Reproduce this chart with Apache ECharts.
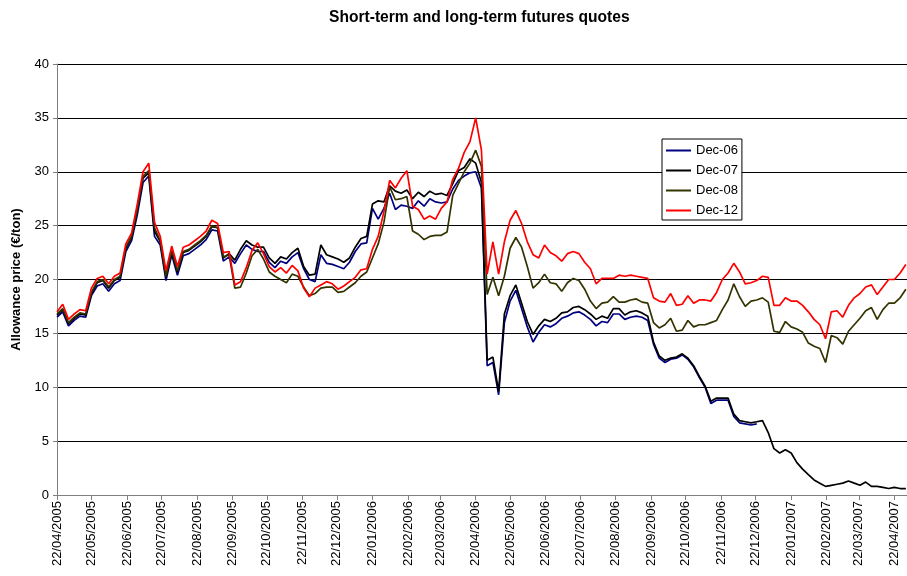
<!DOCTYPE html>
<html>
<head>
<meta charset="utf-8">
<script src="https://cdn.jsdelivr.net/npm/echarts@6/dist/echarts.min.js"></script>
<style>
  html, body { margin: 0; padding: 0; background: #fff; }
  #chart { width: 907px; height: 576px; }
</style>
</head>
<body>
<div id="chart"></div>
<script>
// sample dates (every 5 calendar days)
const dates = [
  '2005-04-22','2005-04-27','2005-05-02','2005-05-07','2005-05-12','2005-05-17','2005-05-22','2005-05-27',
  '2005-06-01','2005-06-06','2005-06-11','2005-06-16','2005-06-21','2005-06-26','2005-07-01','2005-07-06',
  '2005-07-11','2005-07-16','2005-07-21','2005-07-26','2005-07-31','2005-08-05','2005-08-10','2005-08-15',
  '2005-08-20','2005-08-25','2005-08-30','2005-09-04','2005-09-09','2005-09-14','2005-09-19','2005-09-24',
  '2005-09-29','2005-10-04','2005-10-09','2005-10-14','2005-10-19','2005-10-24','2005-10-29','2005-11-03',
  '2005-11-08','2005-11-13','2005-11-18','2005-11-23','2005-11-28','2005-12-03','2005-12-08','2005-12-13',
  '2005-12-18','2005-12-23','2005-12-28','2006-01-02','2006-01-07','2006-01-12','2006-01-17','2006-01-22',
  '2006-01-27','2006-02-01','2006-02-06','2006-02-11','2006-02-16','2006-02-21','2006-02-26','2006-03-03',
  '2006-03-08','2006-03-13','2006-03-18','2006-03-23','2006-03-28','2006-04-02','2006-04-07','2006-04-12',
  '2006-04-17','2006-04-22','2006-04-27','2006-05-02','2006-05-07','2006-05-12','2006-05-17','2006-05-22',
  '2006-05-27','2006-06-01','2006-06-06','2006-06-11','2006-06-16','2006-06-21','2006-06-26','2006-07-01',
  '2006-07-06','2006-07-11','2006-07-16','2006-07-21','2006-07-26','2006-07-31','2006-08-05','2006-08-10',
  '2006-08-15','2006-08-20','2006-08-25','2006-08-30','2006-09-04','2006-09-09','2006-09-14','2006-09-19',
  '2006-09-24','2006-09-29','2006-10-04','2006-10-09','2006-10-14','2006-10-19','2006-10-24','2006-10-29',
  '2006-11-03','2006-11-08','2006-11-13','2006-11-18','2006-11-23','2006-11-28','2006-12-03','2006-12-08',
  '2006-12-13','2006-12-18','2006-12-23','2006-12-28','2007-01-02','2007-01-07','2007-01-12','2007-01-17',
  '2007-01-22','2007-01-27','2007-02-01','2007-02-06','2007-02-11','2007-02-16','2007-02-21','2007-02-26',
  '2007-03-03','2007-03-08','2007-03-13','2007-03-18','2007-03-23','2007-03-28','2007-04-02','2007-04-07',
  '2007-04-12','2007-04-17','2007-04-22','2007-04-27','2007-05-02'
];

const dec06 = [
  16.5,17.0,15.7,16.2,16.6,16.5,18.5,19.4,19.6,18.9,19.6,19.9,22.6,23.6,26.0,29.0,
  29.6,24.0,23.2,19.9,22.3,20.4,22.2,22.4,22.8,23.2,23.7,24.6,24.5,21.7,22.1,21.5,
  22.4,23.2,22.8,22.6,22.6,21.6,21.1,21.7,21.5,22.1,22.5,21.0,20.0,19.8,22.3,21.5,
  21.4,21.2,21.0,21.6,22.6,23.3,23.4,26.6,25.6,26.6,28.0,26.5,26.9,26.8,26.6,27.3,
  26.8,27.5,27.2,27.1,27.2,28.4,29.2,29.6,29.9,30.0,28.5,12.0,12.3,9.3,16.0,18.0,
  19.0,17.3,15.6,14.2,15.1,15.8,15.6,15.9,16.4,16.6,16.9,17.0,16.7,16.3,15.7,16.1,
  16.0,16.8,16.8,16.3,16.5,16.6,16.5,16.2,14.0,12.7,12.3,12.6,12.7,13.0,12.6,11.9,
  10.9,10.0,8.5,8.8,8.8,8.8,7.3,6.7,6.6,6.5,6.6
];

const dec07 = [
  16.7,17.2,15.9,16.4,16.8,16.7,18.7,19.7,19.9,19.2,19.9,20.2,22.9,23.9,26.4,29.4,
  29.9,24.5,23.5,20.2,22.6,20.7,22.5,22.7,23.1,23.5,24.0,24.9,24.8,22.0,22.4,21.8,
  22.8,23.6,23.2,23.0,23.0,22.0,21.5,22.1,21.9,22.5,22.9,21.2,20.4,20.5,23.2,22.3,
  22.1,21.9,21.6,22.0,23.0,23.8,24.0,27.0,27.3,27.2,28.7,28.2,28.0,28.3,27.5,28.1,
  27.7,28.2,27.9,28.0,27.8,28.9,30.1,30.4,31.2,30.8,29.0,12.5,12.8,9.6,16.8,18.5,
  19.5,17.8,16.1,14.9,15.7,16.3,16.1,16.4,16.9,17.0,17.4,17.5,17.2,16.8,16.3,16.6,
  16.4,17.3,17.3,16.7,17.0,17.1,16.9,16.6,14.2,12.9,12.5,12.7,12.8,13.1,12.7,12.0,
  11.0,10.1,8.7,9.0,9.0,9.0,7.5,6.9,6.8,6.7,6.8,6.9,5.8,4.3,3.9,4.2,
  3.9,3.0,2.4,1.9,1.4,1.1,0.8,0.9,1.0,1.1,1.3,1.1,0.9,1.2,0.8,0.8,
  0.7,0.6,0.7,0.6,0.6
];

const dec08 = [
  16.8,17.3,16.0,16.5,16.9,16.8,18.8,19.8,20.0,19.3,20.0,20.3,23.0,24.0,26.5,29.6,
  30.1,24.8,23.6,20.3,22.7,20.8,22.6,22.8,23.2,23.6,24.1,25.0,24.8,22.1,22.3,19.2,
  19.3,20.6,22.2,22.8,21.9,20.7,20.3,20.0,19.7,20.5,20.3,19.3,18.5,18.7,19.2,19.3,
  19.3,18.8,18.9,19.3,19.7,20.3,20.7,22.0,23.3,25.3,28.6,27.4,27.5,27.7,24.5,24.2,
  23.7,24.0,24.1,24.1,24.4,27.8,28.9,30.0,30.8,32.0,30.5,18.6,20.2,18.5,20.3,22.9,
  23.9,23.0,21.2,19.2,19.7,20.5,19.7,19.6,18.9,19.7,20.1,19.9,19.1,18.0,17.3,17.8,
  17.9,18.4,17.9,17.9,18.1,18.2,17.9,17.8,16.0,15.5,15.8,16.4,15.2,15.3,16.2,15.6,
  15.8,15.8,16.0,16.2,17.2,18.1,19.6,18.4,17.5,18.0,18.1,18.3,17.9,15.2,15.1,16.1,
  15.6,15.4,15.1,14.1,13.8,13.6,12.3,14.8,14.6,14.0,15.2,15.8,16.4,17.1,17.4,16.3,
  17.2,17.8,17.8,18.3,19.1
];

const dec12 = [
  17.0,17.7,16.3,16.8,17.2,17.1,19.2,20.1,20.3,19.6,20.3,20.6,23.3,24.3,27.0,30.0,
  30.8,25.3,24.0,20.8,23.1,21.2,23.0,23.2,23.6,24.0,24.5,25.5,25.2,22.5,22.6,19.5,
  19.8,21.1,22.7,23.4,22.4,21.2,20.7,21.1,20.6,21.3,20.8,19.2,18.4,19.2,19.5,19.8,
  19.6,19.1,19.4,19.8,20.2,20.9,21.0,22.8,24.0,26.3,29.2,28.5,29.4,30.1,26.8,26.5,
  25.6,25.9,25.6,26.6,27.2,29.3,30.3,31.8,32.8,35.0,32.0,20.5,23.5,20.5,23.5,25.5,
  26.4,25.2,23.5,22.3,22.0,23.2,22.5,22.2,21.7,22.4,22.6,22.4,21.6,21.0,19.6,20.1,
  20.1,20.1,20.4,20.3,20.4,20.3,20.2,20.1,18.3,18.0,17.9,18.7,17.6,17.7,18.5,17.8,
  18.1,18.1,18.0,18.8,20.0,20.6,21.5,20.7,19.6,19.7,19.9,20.3,20.2,17.6,17.6,18.3,
  18.0,18.0,17.6,17.0,16.3,15.8,14.5,17.0,17.1,16.5,17.6,18.3,18.7,19.3,19.5,18.6,
  19.3,20.0,20.0,20.6,21.4
];

// x axis ticks: the 22nd of every month
const tickMonths = [
  [2005,4],[2005,5],[2005,6],[2005,7],[2005,8],[2005,9],[2005,10],[2005,11],[2005,12],
  [2006,1],[2006,2],[2006,3],[2006,4],[2006,5],[2006,6],[2006,7],[2006,8],[2006,9],
  [2006,10],[2006,11],[2006,12],[2007,1],[2007,2],[2007,3],[2007,4]
];
const xRange = ['2005-04-22', '2007-05-03'];
const yTicks = { min: 0, max: 40, step: 5 };

// dates handled as UTC timestamps on a value axis
const toTs = function (s) {
  const p = s.split('-');
  return Date.UTC(+p[0], +p[1] - 1, +p[2]);
};
const tickValues = tickMonths.map(function (m) { return Date.UTC(m[0], m[1] - 1, 22); });
const pad = function (n) { return (n < 10 ? '0' : '') + n; };
const fmtDate = function (v) {
  const d = new Date(v);
  return pad(d.getUTCDate()) + '/' + pad(d.getUTCMonth() + 1) + '/' + d.getUTCFullYear();
};
const pairs = function (vals) {
  return vals.map(function (v, i) { return [toTs(dates[i]), v]; });
};

const font = 'Liberation Sans, Arial, sans-serif';
const chart = echarts.init(document.getElementById('chart'));

chart.setOption({
  animation: false,
  textStyle: { fontFamily: font },
  title: {
    text: 'Short-term and long-term futures quotes',
    left: 324,
    top: 5,
    textStyle: { fontSize: 15.6, fontWeight: 'bold', color: '#000', fontFamily: font }
  },
  legend: {
    orient: 'vertical',
    left: 662,
    top: 139,
    icon: 'rect',
    itemWidth: 25,
    itemHeight: 2,
    itemGap: 5,
    padding: [4, 4, 2, 4],
    backgroundColor: '#fff',
    borderColor: '#000',
    borderWidth: 1,
    borderRadius: 0,
    textStyle: { fontSize: 13, lineHeight: 15, color: '#000', fontFamily: font },
    data: ['Dec-06', 'Dec-07', 'Dec-08', 'Dec-12']
  },
  grid: { left: 57, right: 0, top: 64, bottom: 81 },
  xAxis: {
    type: 'value',
    min: toTs(xRange[0]),
    max: toTs(xRange[1]),
    splitLine: { show: false },
    axisLine: { lineStyle: { color: '#808080', width: 1 } },
    axisTick: { customValues: tickValues, length: 5, lineStyle: { color: '#808080' } },
    axisLabel: {
      customValues: tickValues,
      rotate: 90,
      margin: 6,
      fontSize: 13,
      color: '#000',
      fontFamily: font,
      formatter: fmtDate
    }
  },
  yAxis: {
    type: 'value',
    min: yTicks.min,
    max: yTicks.max,
    interval: yTicks.step,
    name: 'Allowance price (€/ton)',
    nameLocation: 'middle',
    nameGap: 34,
    nameTextStyle: { fontSize: 13, fontWeight: 'bold', color: '#000', fontFamily: font },
    axisLine: { show: true, lineStyle: { color: '#808080', width: 1 } },
    axisTick: { show: true, length: 4, lineStyle: { color: '#808080' } },
    axisLabel: { fontSize: 13, color: '#000', margin: 8, fontFamily: font },
    splitLine: { lineStyle: { color: '#000', width: 1 } }
  },
  series: [
    { name: 'Dec-06', type: 'line', symbol: 'none', data: pairs(dec06),
      lineStyle: { color: '#000080', width: 1.7 }, itemStyle: { color: '#000080' } },
    { name: 'Dec-07', type: 'line', symbol: 'none', data: pairs(dec07),
      lineStyle: { color: '#000000', width: 1.7 }, itemStyle: { color: '#000000' } },
    { name: 'Dec-08', type: 'line', symbol: 'none', data: pairs(dec08),
      lineStyle: { color: '#333300', width: 1.7 }, itemStyle: { color: '#333300' } },
    { name: 'Dec-12', type: 'line', symbol: 'none', data: pairs(dec12),
      lineStyle: { color: '#ff0000', width: 1.7 }, itemStyle: { color: '#ff0000' } }
  ]
});
</script>
</body>
</html>
